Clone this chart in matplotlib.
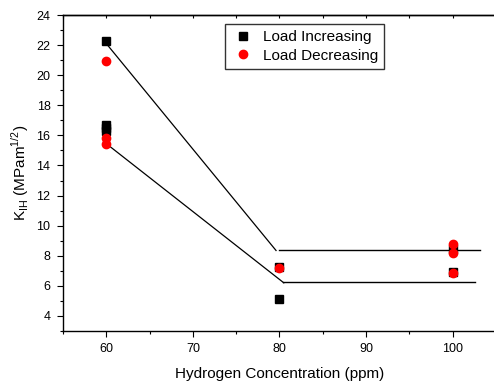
import matplotlib.pyplot as plt
import numpy as np

plt.rcParams["font.family"] = ["Liberation Sans", "DejaVu Sans"]

# Load increasing (squares)
inc_x = [60, 60, 60, 60, 80, 80, 100, 100]
inc_y = [22.25, 16.7, 16.5, 16.3, 7.25, 5.1, 8.45, 6.95]

# Load decreasing (circles)
dec_x = [60, 60, 60, 80, 100, 100, 100]
dec_y = [20.95, 15.85, 15.4, 7.2, 8.75, 8.2, 6.85]

# fitted trend lines (drawn as separate segments)
upper_x = [60, 79.6]
upper_y = [22.1, 8.35]
upper_flat_x = [79.9, 103.1]
upper_flat_y = [8.4, 8.4]
lower_x = [60, 80.5]
lower_y = [15.45, 6.2]
lower_flat_x = [80.4, 102.6]
lower_flat_y = [6.27, 6.27]

fig = plt.figure(figsize=(4.94, 3.82), dpi=100)
ax = fig.add_axes([63 / 494, 51 / 382, 433 / 494, 316 / 382])

ax.plot(upper_x, upper_y, color="black", lw=0.9)
ax.plot(upper_flat_x, upper_flat_y, color="black", lw=1.0)
ax.plot(lower_x, lower_y, color="black", lw=0.9)
ax.plot(lower_flat_x, lower_flat_y, color="black", lw=1.0)

ax.plot(inc_x, inc_y, "s", color="black", ms=6, label="Load Increasing")
ax.plot(dec_x, dec_y, "o", color="red", ms=6, label="Load Decreasing")

ax.set_xlim(55, 105)
ax.set_ylim(3, 24)
ax.set_xticks(np.arange(60, 101, 10))
ax.set_xticks(np.arange(55, 106, 5), minor=True)
ax.set_yticks(np.arange(4, 25, 2))
ax.set_yticks(np.arange(3, 25, 1), minor=True)
ax.tick_params(which="major", direction="out", length=4.5, width=0.8, labelsize=9, pad=4.5)
ax.tick_params(which="minor", direction="out", length=2.5, width=0.8)
# small inward ticks along the top axis
top = ax.secondary_xaxis("top")
top.set_xticks(np.arange(60, 101, 10))
top.set_xticks(np.arange(55, 106, 5), minor=True)
top.tick_params(which="both", direction="in", length=2, width=0.8, labeltop=False)
top.spines["top"].set_linewidth(1.0)

for s in ax.spines.values():
    s.set_linewidth(1.0)

ax.set_xlabel("Hydrogen Concentration (ppm)", fontsize=11, labelpad=8)
ax.set_ylabel(r"K$_{\mathregular{IH}}$ (MPam$^{\mathregular{1/2}}$)", fontsize=11, labelpad=4)

leg = ax.legend(loc="upper left", bbox_to_anchor=(0.374, 0.972), fontsize=11,
                frameon=True, fancybox=False, edgecolor="black",
                handletextpad=0.6, borderpad=0.4, labelspacing=0.3,
                handlelength=1.5, borderaxespad=0)
leg.get_frame().set_linewidth(1.0)

fig.savefig("out.png", dpi=100)
